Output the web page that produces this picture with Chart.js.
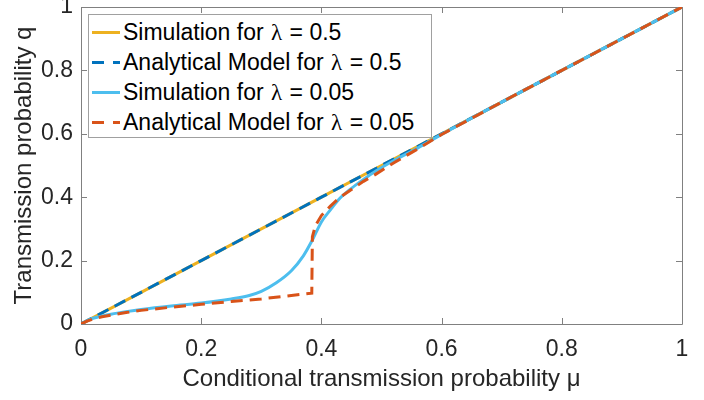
<!DOCTYPE html>
<html>
<head>
<meta charset="utf-8">
<script src="https://cdn.jsdelivr.net/npm/chart.js@4.4.1/dist/chart.umd.min.js"></script>
<style>
  body { margin: 0; background: #fff; }
  #wrap { position: relative; width: 704px; height: 400px; }
  #legend {
    position: absolute; left: 88px; top: 14px; width: 344px; height: 124px;
    box-sizing: border-box; padding-top: 2px;
    border: 1px solid #a0a0a0; background: #fff;
    font-family: 'Liberation Sans', Arial, sans-serif; font-size: 23px; color: #000;
  }
  .row { height: 30px; display: flex; align-items: center; white-space: nowrap; }
  .sample { width: 28px; height: 3px; margin-left: 3px; margin-right: 3px; flex: none; }
  .lam { font-family: 'Liberation Serif', serif; padding: 0 1px; }
</style>
</head>
<body>
<div id="wrap">
  <canvas id="chart" width="704" height="400"></canvas>
  <div id="legend"></div>
</div>
<script>
// Axis ticks
const muTicks = [0, 0.2, 0.4, 0.6, 0.8, 1];
const qTicks = [0, 0.2, 0.4, 0.6, 0.8, 1];

// lambda = 0.5 (simulation and model sit on q = mu)
const muHigh = [0, 0.1, 0.2, 0.3, 0.4, 0.5, 0.6, 0.7, 0.8, 0.9, 1];
const qSimHigh = [0, 0.1, 0.2, 0.3, 0.4, 0.5, 0.6, 0.7, 0.8, 0.9, 1];
const qModelHigh = [0, 0.1, 0.2, 0.3, 0.4, 0.5, 0.6, 0.7, 0.8, 0.9, 1];

// lambda = 0.05 simulation
const muSimLow = [0, 0.01, 0.02, 0.035, 0.05, 0.075, 0.1, 0.15, 0.2, 0.25, 0.28, 0.3, 0.325, 0.35, 0.37, 0.385, 0.4, 0.415, 0.43, 0.45, 0.47, 0.49, 0.52, 0.56, 0.6, 0.7, 0.8, 0.9, 1];
const qSimLow = [0, 0.011, 0.018, 0.025, 0.031, 0.039, 0.046, 0.057, 0.066, 0.079, 0.09, 0.103, 0.13, 0.168, 0.215, 0.265, 0.322, 0.36, 0.395, 0.428, 0.456, 0.482, 0.515, 0.555, 0.598, 0.7, 0.8, 0.9, 1];

// lambda = 0.05 analytical model
const muModelLow = [0, 0.01, 0.02, 0.035, 0.05, 0.075, 0.1, 0.15, 0.2, 0.25, 0.3, 0.35, 0.384, 0.385, 0.39, 0.4, 0.415, 0.43, 0.45, 0.47, 0.49, 0.52, 0.56, 0.6, 0.7, 0.8, 0.9, 1];
const qModelLow = [0, 0.009, 0.016, 0.023, 0.028, 0.036, 0.043, 0.053, 0.062, 0.071, 0.079, 0.09, 0.097, 0.275, 0.31, 0.342, 0.372, 0.398, 0.424, 0.45, 0.472, 0.508, 0.552, 0.598, 0.7, 0.8, 0.9, 1];

const series = [
    { name: 'Simulation for ', lam: '0.5', color: '#EDB120', dash: [], mu: muHigh, q: qSimHigh, order: 4 },
    { name: 'Analytical Model for ', lam: '0.5', color: '#0072BD', dash: [12, 7], mu: muHigh, q: qModelHigh, order: 3 },
    { name: 'Simulation for ', lam: '0.05', color: '#4DBEEE', dash: [], mu: muSimLow, q: qSimLow, order: 2, smooth: true },
    { name: 'Analytical Model for ', lam: '0.05', color: '#D95319', dash: [12, 7], mu: muModelLow, q: qModelLow, order: 1 }
];

function points(xs, ys) {
    return xs.map((x, i) => ({ x: x, y: ys[i] }));
}

// Box and inward ticks, MATLAB style
const frame = {
    id: 'frame',
    beforeDatasetsDraw(chart) {
        const { ctx, chartArea: a, scales: { x, y } } = chart;
        ctx.save();
        ctx.strokeStyle = '#808080';
        ctx.lineWidth = 1;
        ctx.beginPath();
        ctx.rect(a.left + 0.5, a.top + 0.5, a.right - a.left, a.bottom - a.top);
        muTicks.forEach(v => {
            const px = Math.round(x.getPixelForValue(v)) + 0.5;
            ctx.moveTo(px, a.bottom); ctx.lineTo(px, a.bottom - 6);
            ctx.moveTo(px, a.top); ctx.lineTo(px, a.top + 6);
        });
        qTicks.forEach(v => {
            const py = Math.round(y.getPixelForValue(v)) + 0.5;
            ctx.moveTo(a.left, py); ctx.lineTo(a.left + 6, py);
            ctx.moveTo(a.right, py); ctx.lineTo(a.right - 6, py);
        });
        ctx.stroke();
        ctx.restore();
    }
};

Chart.defaults.font.family = "'Liberation Sans', Arial, sans-serif";
Chart.defaults.color = '#262626';

new Chart(document.getElementById('chart').getContext('2d'), {
    type: 'scatter',
    data: {
        datasets: series.map(s => ({
            label: s.name + 'λ = ' + s.lam,
            data: points(s.mu, s.q),
            showLine: true,
            borderColor: s.color,
            backgroundColor: s.color,
            borderWidth: 3,
            borderDash: s.dash,
            pointRadius: 0,
            tension: 0,
            cubicInterpolationMode: s.smooth ? 'monotone' : 'default',
            order: s.order
        }))
    },
    options: {
        responsive: false,
        animation: false,
        layout: { padding: { top: 7, right: 22, left: 0, bottom: 0 } },
        plugins: {
            legend: { display: false },
            tooltip: { enabled: false }
        },
        scales: {
            x: {
                type: 'linear', min: 0, max: 1,
                afterBuildTicks: s => { s.ticks = muTicks.map(v => ({ value: v })); },
                afterFit: s => { s.height = 76; s.paddingLeft = 0; s.paddingRight = 0; },
                grid: { display: false, drawTicks: false },
                border: { display: false },
                ticks: { font: { size: 23 }, padding: 12, maxRotation: 0, callback: v => String(v) },
                title: {
                    display: true,
                    text: 'Conditional transmission probability μ',
                    font: { size: 24 },
                    padding: { top: 0, bottom: 6 }
                }
            },
            y: {
                type: 'linear', min: 0, max: 1,
                afterBuildTicks: s => { s.ticks = qTicks.map(v => ({ value: v })); },
                afterFit: s => { s.width = 81; s.paddingTop = 0; s.paddingBottom = 0; },
                grid: { display: false, drawTicks: false },
                border: { display: false },
                ticks: { font: { size: 23 }, padding: 8, callback: v => String(v) },
                title: {
                    display: true,
                    text: 'Transmission probability q',
                    font: { size: 24 },
                    padding: { top: 10, bottom: 0 }
                }
            }
        }
    },
    plugins: [frame]
});

// Legend inside the axes, top left
const legend = document.getElementById('legend');
legend.innerHTML = series.map(s => {
    let bg = s.color;
    if (s.dash.length) {
        bg = `linear-gradient(to right, ${s.color} 0 12px, transparent 12px 21px, ${s.color} 21px 28px)`;
    }
    return `<div class="row"><span class="sample" style="background:${bg}"></span>` +
        `<span>${s.name}<span class="lam">λ</span> = ${s.lam}</span></div>`;
}).join('');
</script>
</body>
</html>
